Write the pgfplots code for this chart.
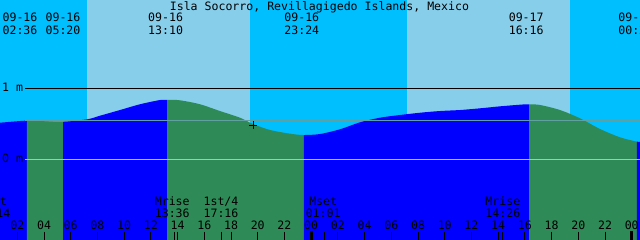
\documentclass[border=0pt]{standalone}
\usepackage{pgfplots}
\pgfplotsset{compat=1.18}
\usepackage{pgfplotstable}
\usepgfplotslibrary{fillbetween}
\usepackage{fontspec}
\setmonofont{DejaVu Sans Mono}
\definecolor{night}{RGB}{0,191,255}
\definecolor{day}{RGB}{135,206,235}
\definecolor{rising}{RGB}{0,0,255}
\definecolor{falling}{RGB}{46,139,87}
\definecolor{midline}{RGB}{96,160,160}
\definecolor{zeroline}{RGB}{135,206,235}
\tikzset{lab/.style={anchor=base, inner sep=0pt}}
\tikzset{fill between/on layer=main}

\pgfplotstableread{
h m
0.704 0.515
2.6 0.544
3.70 0.539
5.333 0.527
7.22 0.563
8.19 0.614
9.69 0.694
11.18 0.775
12.68 0.835
13.167 0.838
14.18 0.831
15.68 0.775
17.17 0.680
18.67 0.586
19.64 0.497
20.92 0.413
22.41 0.361
23.4 0.342
24.66 0.356
26.16 0.423
27.66 0.521
29.15 0.586
30.65 0.624
32.15 0.656
33.64 0.680
35.14 0.694
36.64 0.718
38.14 0.746
39.63 0.769
40.267 0.775
41.13 0.765
42.63 0.694
44.13 0.577
45.62 0.427
47.12 0.310
48.4 0.248
48.62 0.249
}\tide

\begin{document}
\begin{tikzpicture}[font=\ttfamily\fontsize{11.6}{13}\selectfont]
\begin{axis}[
  width=640bp, height=240bp, scale only axis, hide axis,
  xmin=0.704, xmax=48.62, ymin=-1.137, ymax=2.244, clip=false]
\coordinate (SW) at (rel axis cs:0,0);
\coordinate (NE) at (rel axis cs:1,1);
% sky
\addplot[draw=none, fill=night] coordinates {(0.704,-1.137) (0.704,2.244) (48.62,2.244) (48.62,-1.137)} -- cycle;
\addplot[draw=none, fill=day] coordinates {(7.22,-1.137) (7.22,2.244) (19.42,2.244) (19.42,-1.137)} -- cycle;
\addplot[draw=none, fill=day] coordinates {(31.17,-1.137) (31.17,2.244) (43.38,2.244) (43.38,-1.137)} -- cycle;
% water
\addplot[name path=tide, draw=none, smooth] table {\tide};
\path[name path=bot] (axis cs:0.704,-1.137) -- (axis cs:48.62,-1.137);
\addplot[rising] fill between[of=tide and bot, soft clip={domain=0.704:2.725}];
\addplot[falling] fill between[of=tide and bot, soft clip={domain=2.725:5.421}];
\addplot[rising] fill between[of=tide and bot, soft clip={domain=5.421:13.207}];
\addplot[falling] fill between[of=tide and bot, soft clip={domain=13.207:23.46}];
\addplot[rising] fill between[of=tide and bot, soft clip={domain=23.46:40.31}];
\addplot[falling] fill between[of=tide and bot, soft clip={domain=40.31:48.39}];
\addplot[rising] fill between[of=tide and bot, soft clip={domain=48.39:48.62}];
% level lines
\addplot[black, line width=1bp] coordinates {(2.576,1) (48.62,1)};
\addplot[midline, line width=1bp] coordinates {(2.576,0.549) (48.62,0.549)};
\addplot[zeroline, line width=1bp] coordinates {(2.576,0) (48.62,0)};
\node[anchor=base west, inner sep=0pt] at (axis cs:0.85,0.948) {1 m};
\node[anchor=base west, inner sep=0pt] at (axis cs:0.85,-0.052) {0 m};
% current time
\addplot[black, only marks, mark=+, mark size=4bp, line width=1bp] coordinates {(19.67,0.483)};
% hour ticks
\pgfplotsinvokeforeach{2,4,...,22,26,28,...,46}{
  \addplot[black, line width=1bp] coordinates {(#1,-1.02) (#1,-1.137)};
}
\pgfplotsinvokeforeach{13.75,17.25,24.98,38.35}{
  \addplot[black, line width=1bp] coordinates {(#1,-1.02) (#1,-1.137)};
}
\pgfplotsinvokeforeach{24,48}{
  \addplot[black, line width=3bp] coordinates {(#1,-1.01) (#1,-1.137)};
}
% tick labels
\node[lab] at (axis cs:2,-0.986) {02};
\node[lab] at (axis cs:4,-0.986) {04};
\node[lab] at (axis cs:6,-0.986) {06};
\node[lab] at (axis cs:8,-0.986) {08};
\node[lab] at (axis cs:10,-0.986) {10};
\node[lab] at (axis cs:12,-0.986) {12};
\node[lab] at (axis cs:14,-0.986) {14};
\node[lab] at (axis cs:16,-0.986) {16};
\node[lab] at (axis cs:18,-0.986) {18};
\node[lab] at (axis cs:20,-0.986) {20};
\node[lab] at (axis cs:22,-0.986) {22};
\node[lab] at (axis cs:24,-0.986) {00};
\node[lab] at (axis cs:26,-0.986) {02};
\node[lab] at (axis cs:28,-0.986) {04};
\node[lab] at (axis cs:30,-0.986) {06};
\node[lab] at (axis cs:32,-0.986) {08};
\node[lab] at (axis cs:34,-0.986) {10};
\node[lab] at (axis cs:36,-0.986) {12};
\node[lab] at (axis cs:38,-0.986) {14};
\node[lab] at (axis cs:40,-0.986) {16};
\node[lab] at (axis cs:42,-0.986) {18};
\node[lab] at (axis cs:44,-0.986) {20};
\node[lab] at (axis cs:46,-0.986) {22};
\node[lab] at (axis cs:48,-0.986) {00};
% title
\node[lab] at (axis cs:24.62,2.103) {Isla Socorro, Revillagigedo Islands, Mexico};
% top event labels
\node[lab] at (axis cs:2.2,1.938) {09-16};
\node[lab] at (axis cs:2.2,1.765) {02:36};
\node[lab] at (axis cs:5.42,1.938) {09-16};
\node[lab] at (axis cs:5.42,1.765) {05:20};
\node[lab] at (axis cs:13.1,1.938) {09-16};
\node[lab] at (axis cs:13.1,1.765) {13:10};
\node[lab] at (axis cs:23.3,1.938) {09-16};
\node[lab] at (axis cs:23.3,1.765) {23:24};
\node[lab] at (axis cs:40.1,1.938) {09-17};
\node[lab] at (axis cs:40.1,1.765) {16:16};
\node[lab] at (axis cs:48.3,1.938) {09-18};
\node[lab] at (axis cs:48.3,1.765) {00:24};
% bottom event labels
\node[lab] at (axis cs:0.18,-0.658) {Mset};
\node[lab] at (axis cs:0.18,-0.823) {00:14};
\node[lab] at (axis cs:13.6,-0.658) {Mrise};
\node[lab] at (axis cs:13.6,-0.823) {13:36};
\node[lab] at (axis cs:17.25,-0.658) {1st/4};
\node[lab] at (axis cs:17.25,-0.823) {17:16};
\node[lab] at (axis cs:24.9,-0.658) {Mset};
\node[lab] at (axis cs:24.9,-0.823) {01:01};
\node[lab] at (axis cs:38.35,-0.658) {Mrise};
\node[lab] at (axis cs:38.35,-0.823) {14:26};
\end{axis}
\pgfresetboundingbox
\useasboundingbox (SW) rectangle (NE);
\end{tikzpicture}
\end{document}
